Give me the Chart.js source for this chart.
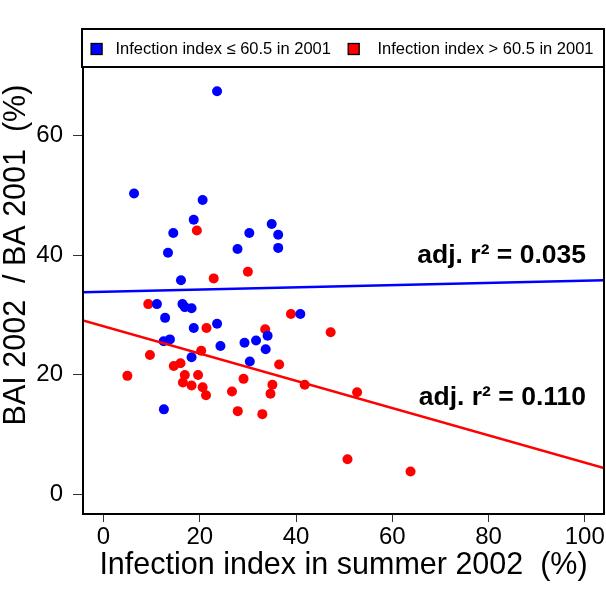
<!DOCTYPE html>
<html>
<head>
<meta charset="utf-8">
<script src="https://cdn.jsdelivr.net/npm/chart.js@4/dist/chart.umd.min.js"></script>
<style>
html,body{margin:0;padding:0;background:#fff;}
canvas{display:block;}
</style>
</head>
<body>
<canvas id="c" width="606" height="589"></canvas>
<script>
// ---- data ----
const groupLabels = ["Infection index \u2264 60.5 in 2001", "Infection index > 60.5 in 2001"];
const lowX = [23.6, 6.35, 20.6, 18.75, 14.5, 13.4, 34.95, 30.3, 36.3, 36.3, 27.85, 16.1, 11.1, 16.4, 16.9, 18.3, 12.8, 18.75, 23.6, 12.5, 13.8, 40.9, 34.1, 24.3, 29.3, 31.7, 33.7, 30.4, 18.3, 12.55];
const lowY = [67.4, 50.3, 49.2, 45.9, 43.7, 40.4, 45.2, 43.7, 43.4, 41.2, 41.0, 35.8, 31.8, 31.8, 31.3, 31.1, 29.5, 27.8, 28.5, 25.6, 25.9, 30.15, 26.5, 24.8, 25.35, 25.7, 24.25, 22.2, 22.9, 14.2];
const highX = [19.4, 22.9, 30.0, 9.3, 21.4, 38.95, 33.6, 47.2, 36.5, 41.8, 29.1, 35.1, 34.7, 26.7, 27.9, 33.0, 9.65, 20.3, 4.96, 14.6, 16.0, 16.9, 19.65, 16.5, 18.3, 20.6, 21.3, 52.7, 50.7, 63.8];
const highY = [44.1, 36.1, 37.2, 31.8, 27.8, 30.15, 27.6, 27.1, 21.7, 18.3, 19.3, 18.3, 16.8, 17.2, 13.9, 13.4, 23.3, 24.0, 19.8, 21.45, 21.9, 19.95, 19.95, 18.7, 18.2, 17.9, 16.55, 17.05, 5.85, 3.8];
// regression fits (intercept, slope) and their adjusted r^2 labels
const lowFit = [33.88, 0.0185];
const highFit = [28.1, -0.228];
const fitLabels = ["adj. r\u00b2 = 0.035", "adj. r\u00b2 = 0.110"];
const xTicks = [0, 20, 40, 60, 80, 100];
const yTicks = [0, 20, 40, 60];
const xRange = [-4.26, 104];
const yRange = [-3.3, 71.45];
const xTitle = "Infection index in summer 2002  (%)";
const yTitle = "BAI 2002  / BA 2001  (%)";

const BLUE = "#0000ff", RED = "#ff0000";
const FONT = "'Liberation Sans', Arial, sans-serif";

function pts(xs, ys){ return xs.map((x,i)=>({x:x, y:ys[i]})); }
function fitLine(f){ return xRange.map(x=>({x:x, y:f[0]+f[1]*x})); }

const frame = {
  id: 'frame',
  afterDraw(chart){
    const {ctx, chartArea:a} = chart;
    ctx.save();
    ctx.strokeStyle = '#000';
    ctx.lineWidth = 2;
    ctx.strokeRect(a.left, a.top, a.right-a.left, a.bottom-a.top);
    // legend box
    const lt = 29;
    ctx.strokeRect(a.left-1, lt, a.right-a.left+1, a.top-lt);
    ctx.font = "16.5px " + FONT;
    ctx.textBaseline = 'middle';
    const ly = (lt + a.top)/2 + 1;
    const items = [[96.6, 115.5, BLUE, groupLabels[0]], [353.7, 377.5, RED, groupLabels[1]]];
    items.forEach(([x, tx, col, txt])=>{
      ctx.fillStyle = col;
      ctx.fillRect(x-5.5, ly-5.5, 11, 11);
      ctx.lineWidth = 1.3;
      ctx.strokeRect(x-5.5, ly-5.5, 11, 11);
      ctx.fillStyle = '#000';
      ctx.textAlign = 'left';
      ctx.fillText(txt, tx, ly);
    });
    // r^2 annotations
    ctx.font = "bold 26.5px " + FONT;
    ctx.textAlign = 'right';
    ctx.textBaseline = 'alphabetic';
    ctx.fillText(fitLabels[0], 586, 263);
    ctx.fillText(fitLabels[1], 586, 405);
    // y axis title
    ctx.font = "30.5px " + FONT;
    ctx.textAlign = 'center';
    ctx.textBaseline = 'middle';
    ctx.translate(17, 255);
    ctx.rotate(-Math.PI/2);
    ctx.fillText(yTitle, 0, 0);
    ctx.restore();
  }
};

new Chart(document.getElementById('c'), {
  type: 'scatter',
  data: {
    datasets: [
      {type:'line', data: fitLine(lowFit), borderColor: BLUE, borderWidth: 2.5, pointRadius: 0, fill:false, order: 0},
      {type:'line', data: fitLine(highFit), borderColor: RED, borderWidth: 2.5, pointRadius: 0, fill:false, order: 0},
      {label: groupLabels[0], data: pts(lowX, lowY), backgroundColor: BLUE, borderWidth: 0, pointRadius: 5, order: 1},
      {label: groupLabels[1], data: pts(highX, highY), backgroundColor: RED, borderWidth: 0, pointRadius: 5, order: 2}
    ]
  },
  options: {
    responsive: false,
    animation: false,
    devicePixelRatio: 1,
    layout: {autoPadding: false, padding: {top: 67, right: 2, left: 0, bottom: 0}},
    plugins: {legend: {display: false}, tooltip: {enabled: false}},
    scales: {
      x: {
        type: 'linear', min: xRange[0], max: xRange[1],
        afterFit(s){ s.height = 75; s.paddingLeft = 0; s.paddingRight = 0; },
        afterBuildTicks(s){ s.ticks = xTicks.map(v=>({value:v})); },
        grid: {drawOnChartArea: false, drawTicks: true, tickLength: 8, color: '#333', lineWidth: 1},
        border: {display: true, color: '#000', width: 2},
        ticks: {color: '#000', font: {family: FONT, size: 24}, padding: 1, maxRotation: 0},
        title: {display: true, text: xTitle, color: '#000', font: {family: FONT, size: 30.5, lineHeight: 1}, padding: {top: 0, bottom: 8}}
      },
      y: {
        type: 'linear', min: yRange[0], max: yRange[1],
        afterFit(s){ s.width = 83; s.paddingTop = 0; s.paddingBottom = 0; },
        afterBuildTicks(s){ s.ticks = yTicks.map(v=>({value:v})); },
        grid: {drawOnChartArea: false, drawTicks: true, tickLength: 10, color: '#333', lineWidth: 1},
        border: {display: true, color: '#000', width: 2},
        ticks: {color: '#000', font: {family: FONT, size: 24}, padding: 10}
      }
    }
  },
  plugins: [frame]
});
</script>
</body>
</html>
